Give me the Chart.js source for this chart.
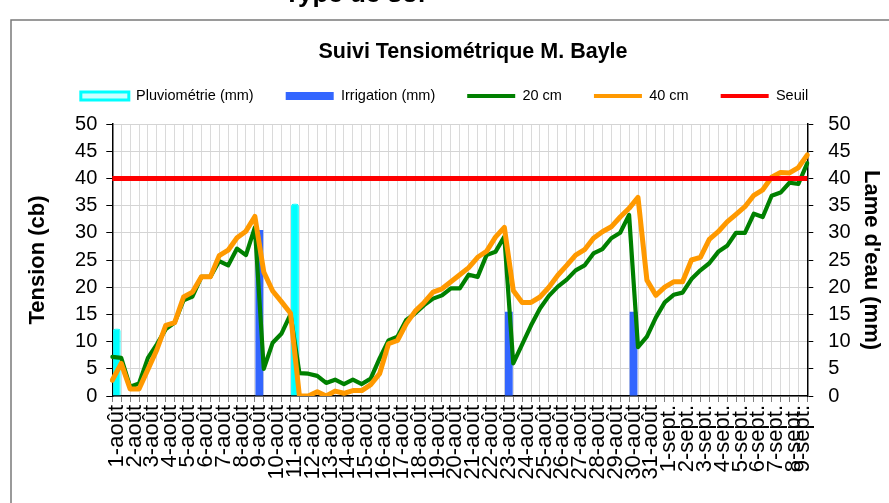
<!DOCTYPE html>
<html><head><meta charset="utf-8">
<script src="https://cdn.jsdelivr.net/npm/chart.js@4.4.1/dist/chart.umd.min.js"></script>
<style>html,body{margin:0;padding:0;background:#fff;}#wrap{width:889px;height:503px;}</style>
</head><body><div id="wrap"><canvas id="c" width="889" height="503"></canvas></div>
<script>
const TITLE = 'Suivi Tensiométrique M. Bayle';
const HEADER = 'Type de sol';
const SEUIL = 40;
const dateLabels = [
 '1-août','','2-août','','3-août','','4-août','','5-août','',
 '6-août','','7-août','','8-août','','9-août','','10-août','',
 '11-août','','12-août','','13-août','','14-août','','15-août','',
 '16-août','','17-août','','18-août','','19-août','','20-août','',
 '21-août','','22-août','','23-août','','24-août','','25-août','',
 '26-août','','27-août','','28-août','','29-août','','30-août','',
 '31-août','','1-sept.','','2-sept.','','3-sept.','','4-sept.','',
 '5-sept.','','6-sept.','','7-sept.','','8-sept.','9-sept.'
];
const pluvio = [
 12.4,null,null,null,null,null,null,null,null,null,
 null,null,null,null,null,null,null,null,null,null,
 35.4,null,null,null,null,null,null,null,null,null,
 null,null,null,null,null,null,null,null,null,null,
 null,null,null,null,null,null,null,null,null,null,
 null,null,null,null,null,null,null,null,null,null,
 null,null,null,null,null,null,null,null,null,null,
 null,null,null,null,null,null,null,null
];
const irrigation = [
 null,null,null,null,null,null,null,null,null,null,
 null,null,null,null,null,null,30.5,null,null,null,
 null,null,null,null,null,null,null,null,null,null,
 null,null,null,null,null,null,null,null,null,null,
 null,null,null,null,15.5,null,null,null,null,null,
 null,null,null,null,null,null,null,null,15.5,null,
 null,null,null,null,null,null,null,null,null,null,
 null,null,null,null,null,null,null,null
];
const tension20 = [
 7.2, 7.0, 1.7, 2.3, 7.0, 9.5, 12.3, 13.5, 17.6, 18.3,
 21.9, 21.9, 24.8, 24.0, 27.1, 25.9, 31.0, 5.0, 9.8, 11.5,
 15.0, 4.2, 4.1, 3.7, 2.4, 3.0, 2.2, 3.0, 2.2, 3.2,
 6.9, 10.2, 10.9, 14.0, 15.2, 16.7, 17.9, 18.5, 19.8, 19.8,
 22.3, 21.9, 25.9, 26.5, 29.3, 6.0, 9.5, 13.0, 16.1, 18.4,
 20.1, 21.4, 23.1, 24.0, 26.2, 27.0, 29.0, 30.0, 33.3, 9.0,
 10.9, 14.4, 17.2, 18.6, 19.0, 21.5, 23.1, 24.4, 26.5, 27.6,
 30.0, 30.0, 33.5, 32.9, 36.8, 37.4, 39.2, 39.0, 42.8
];
const tension40 = [
 2.9, 6.0, 1.3, 1.3, 4.9, 8.5, 13.0, 13.5, 18.2, 19.1,
 21.9, 21.9, 25.8, 26.8, 29.1, 30.3, 33.0, 22.8, 19.3, 17.3,
 15.2, 0.0, 0.0, 0.8, 0.0, 0.9, 0.5, 1.0, 1.0, 2.1,
 4.1, 9.6, 10.2, 13.3, 15.6, 17.2, 19.1, 19.7, 21.0, 22.3,
 23.6, 25.5, 26.6, 29.2, 31.0, 19.4, 17.2, 17.2, 18.2, 20.0,
 22.2, 24.0, 25.9, 26.9, 29.0, 30.2, 31.1, 32.9, 34.5, 36.5,
 21.3, 18.5, 20.0, 21.0, 21.0, 25.0, 25.5, 28.8, 30.2, 32.0,
 33.4, 34.8, 36.9, 37.9, 40.2, 41.1, 41.0, 42.0, 44.3
];
const lineTicks = tension20.map((_, i) => i);

const FAMILY = '"Liberation Sans", Arial, Helvetica, sans-serif';
Chart.defaults.font.family = FAMILY;
Chart.defaults.color = '#000';

const COL = {pluvio:'#00FFFF', irrig:'#3366FF', g:'#008000', o:'#FF9900', r:'#FF0000'};

const deco = {
  id: 'deco',
  beforeLayout(chart) {
    const lg = chart.legend;
    if (lg && !lg.__p) {
      const f = lg.fit;
      lg.fit = function () { f.call(this); this.height += 10.75; };
      lg.__p = true;
    }
  },
  beforeDraw(chart) {
    const c = chart.ctx;
    c.save();
    c.fillStyle = '#fff';
    c.fillRect(0, 0, chart.width, chart.height);
    c.strokeStyle = '#7a7a7a';
    c.lineWidth = 1.5;
    c.beginPath();
    c.moveTo(11, chart.height); c.lineTo(11, 20); c.lineTo(chart.width, 20);
    c.stroke();
    c.restore();
  },
  afterDraw(chart) {
    const c = chart.ctx;
    c.save();
    c.fillStyle = '#000';
    c.font = 'bold 21.5px ' + FAMILY;
    c.textAlign = 'center'; c.textBaseline = 'middle';
    c.fillText(TITLE, 473, 52);
    c.font = 'bold 26px ' + FAMILY;
    c.textAlign = 'left'; c.textBaseline = 'alphabetic';
    c.fillText(HEADER, 284, 2);
    c.restore();
  }
};

const legendItems = [
  {text:'Pluviométrie (mm)', fillStyle:'#CCFFFF', strokeStyle:COL.pluvio, lineWidth:3, pointStyle:'rect', datasetIndex:4},
  {text:'Irrigation (mm)', fillStyle:COL.irrig, strokeStyle:COL.irrig, lineWidth:0, pointStyle:'rect', datasetIndex:3},
  {text:'20 cm', fillStyle:COL.g, strokeStyle:COL.g, lineWidth:4, pointStyle:'line', datasetIndex:2},
  {text:'40 cm', fillStyle:COL.o, strokeStyle:COL.o, lineWidth:4, pointStyle:'line', datasetIndex:1},
  {text:'Seuil', fillStyle:COL.r, strokeStyle:COL.r, lineWidth:4, pointStyle:'line', datasetIndex:0}
];

new Chart(document.getElementById('c'), {
  data: {
    datasets: [
      {type:'line', label:'Seuil', data:[{x:lineTicks[0], y:SEUIL},{x:lineTicks[lineTicks.length-1], y:SEUIL}],
       xAxisID:'xl', yAxisID:'y', borderColor:COL.r, borderWidth:5, pointRadius:0, order:0},
      {type:'line', label:'40 cm', data:tension40, xAxisID:'xl', yAxisID:'y', borderColor:COL.o,
       borderWidth:5, pointRadius:0, tension:0, borderJoinStyle:'round', borderCapStyle:'round', order:1},
      {type:'line', label:'20 cm', data:tension20, xAxisID:'xl', yAxisID:'y', borderColor:COL.g,
       borderWidth:4.2, pointRadius:0, tension:0, borderJoinStyle:'round', borderCapStyle:'round', order:2},
      {type:'bar', label:'Irrigation (mm)', data:irrigation, xAxisID:'x', yAxisID:'y2', backgroundColor:COL.irrig,
       borderWidth:0, grouped:false, barPercentage:0.88, categoryPercentage:1, order:3},
      {type:'bar', label:'Pluviométrie (mm)', data:pluvio, xAxisID:'x', yAxisID:'y2', backgroundColor:COL.pluvio,
       borderColor:COL.pluvio, borderWidth:1, borderRadius:3, borderSkipped:'bottom', grouped:false,
       barPercentage:0.88, categoryPercentage:1, order:4}
    ]
  },
  options: {
    responsive:false, animation:false, devicePixelRatio:1,
    layout:{padding:{top:56.75, left:0, right:0, bottom:0}},
    plugins:{
      tooltip:{enabled:false},
      title:{display:false},
      legend:{
        display:true, position:'top',
        labels:{
          usePointStyle:true, pointStyleWidth:48, boxHeight:8, padding:32, color:'#000',
          font:{size:14.5, family:FAMILY},
          generateLabels:() => legendItems.map(it => Object.assign({hidden:false, fontColor:'#000', lineCap:'butt'}, it))
        }
      }
    },
    scales:{
      x:{
        type:'category', labels:dateLabels, offset:true, position:'bottom',
        grid:{offset:true, color:'#dadada', lineWidth:1, tickLength:6, tickColor:'#808080', drawTicks:true},
        border:{color:'#000', width:1.5},
        ticks:{autoSkip:false, maxRotation:90, minRotation:90, color:'#000', font:{size:22}, padding:3},
        afterFit:s => { s.height = 107; }
      },
      xl:{type:'category', labels:lineTicks, offset:false, display:false},
      y:{
        position:'left', min:0, max:50,
        ticks:{stepSize:5, color:'#000', font:{size:20}, padding:9},
        grid:{color:'#d4d4d4', lineWidth:1, tickLength:6, tickColor:'#000'},
        border:{color:'#000', width:1.5},
        title:{display:true, text:'Tension (cb)', color:'#000', font:{size:22, weight:'bold'}, padding:{top:24.8, bottom:0}},
        afterFit:s => { s.width = 112.3; }
      },
      y2:{
        position:'right', min:0, max:50,
        ticks:{stepSize:5, color:'#000', font:{size:20}, padding:15},
        grid:{drawOnChartArea:false, tickLength:6, tickColor:'#000'},
        border:{color:'#000', width:1.5},
        title:{display:true, text:"Lame d'eau (mm)", color:'#000', font:{size:22, weight:'bold'}, padding:{top:4.8, bottom:0}},
        afterFit:s => { s.width = 889 - 807.3; }
      }
    }
  },
  plugins:[deco]
});
</script>
</body></html>
